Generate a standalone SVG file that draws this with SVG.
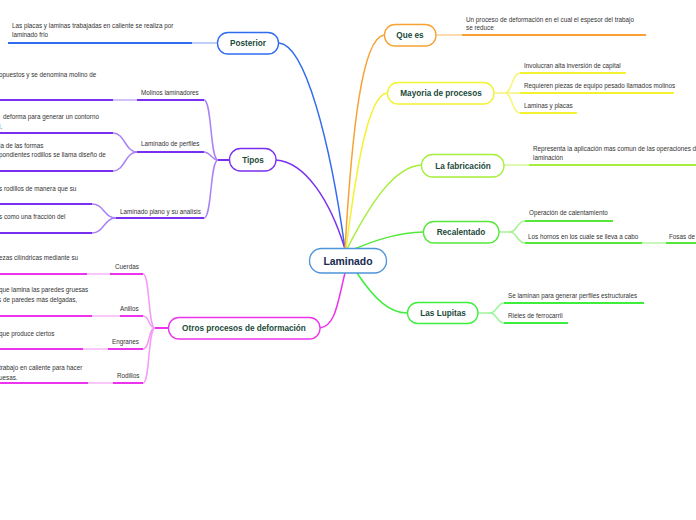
<svg xmlns="http://www.w3.org/2000/svg" width="696" height="520" viewBox="0 0 696 520">
<style>
.t{font-family:"Liberation Sans",Arial,sans-serif;font-size:6.3px;fill:#333}
.n{font-family:"Liberation Sans",Arial,sans-serif;font-size:8.2px;font-weight:bold;fill:#1b4a3a;text-anchor:middle}
.box{fill:#fff;stroke-width:1.3}
.c{fill:none;stroke-width:1.5;stroke-linecap:round}
.u{fill:none;stroke-width:2}
.l{fill:none;stroke-width:1.5}
</style>
<rect width="696" height="520" fill="#fff"/>
<g id="connectors">
  <!-- main connectors -->
  <path class="c" stroke="#2f6cf2" d="M345,249 C330,140 305,45 279,43"/>
  <path class="c" stroke="#7a2ff0" d="M345,249 C330,200 305,162 276,160"/>
  <path class="c" stroke="#ee33ee" d="M345,273 C338,300 336,326 320,328"/>
  <path class="c" stroke="#f7a233" d="M345,249 C352,130 362,38 384,35"/>
  <path class="c" stroke="#f2f230" d="M346,249 C356,170 368,95 387,93"/>
  <path class="c" stroke="#a6ee3a" d="M347,249 C372,200 395,167 421,165"/>
  <path class="c" stroke="#55e83a" d="M352,250 C380,238 400,233 423,232"/>
  <path class="c" stroke="#3dee3d" d="M357,273 C375,300 390,313 407,313"/>

  <!-- Posterior child -->
  <path class="l" stroke="#a8bff8" d="M217,43 H192"/>
  <path class="u" stroke="#2f6cf2" d="M192,43 H8"/>

  <!-- Tipos children -->
  <path class="u" stroke="#7a2ff0" d="M229,160 H218"/>
  <path class="l" stroke="#a882f5" d="M218,160 C210,160 212,100 204,100"/>
  <path class="l" stroke="#a882f5" d="M218,160 C212,160 210,152 204,152"/>
  <path class="l" stroke="#a882f5" d="M218,160 C210,160 212,218 204,218"/>
  <path class="u" stroke="#7a2ff0" d="M204,100 H137"/>
  <path class="u" stroke="#7a2ff0" d="M204,152 H137"/>
  <path class="u" stroke="#7a2ff0" d="M204,218 H116"/>
  <path class="l" stroke="#c4acf8" d="M137,100 H113"/>
  <path class="u" stroke="#7a2ff0" d="M113,100 H0"/>
  <path class="l" stroke="#a882f5" d="M137,152 C125,152 125,133 113,133"/>
  <path class="l" stroke="#a882f5" d="M137,152 C125,152 125,171 113,171"/>
  <path class="u" stroke="#7a2ff0" d="M113,133 H0"/>
  <path class="u" stroke="#7a2ff0" d="M113,171 H0"/>
  <path class="l" stroke="#a882f5" d="M116,218 C104,218 104,204 92,204"/>
  <path class="l" stroke="#a882f5" d="M116,218 C104,218 104,233 92,233"/>
  <path class="u" stroke="#7a2ff0" d="M92,204 H0"/>
  <path class="u" stroke="#7a2ff0" d="M92,233 H0"/>

  <!-- Otros children -->
  <path class="u" stroke="#ee33ee" d="M168,328 H155"/>
  <path class="l" stroke="#f59af5" d="M155,328 C148,328 150,274 143,274"/>
  <path class="l" stroke="#f59af5" d="M155,328 C148,328 150,316 143,316"/>
  <path class="l" stroke="#f59af5" d="M155,328 C148,328 150,349 143,349"/>
  <path class="l" stroke="#f59af5" d="M155,328 C148,328 150,383 143,383"/>
  <path class="u" stroke="#ee33ee" d="M143,274 H110"/>
  <path class="l" stroke="#f8b4f8" d="M110,274 H87"/>
  <path class="u" stroke="#ee33ee" d="M87,274 H0"/>
  <path class="u" stroke="#ee33ee" d="M143,316 H120"/>
  <path class="l" stroke="#f8b4f8" d="M120,316 H92"/>
  <path class="u" stroke="#ee33ee" d="M92,316 H0"/>
  <path class="u" stroke="#ee33ee" d="M143,349 H108"/>
  <path class="l" stroke="#f8b4f8" d="M108,349 H83"/>
  <path class="u" stroke="#ee33ee" d="M83,349 H0"/>
  <path class="u" stroke="#ee33ee" d="M143,383 H113"/>
  <path class="l" stroke="#f8b4f8" d="M113,383 H88"/>
  <path class="u" stroke="#ee33ee" d="M88,383 H0"/>

  <!-- Que es child -->
  <path class="l" stroke="#fbcf96" d="M436,35 H462"/>
  <path class="u" stroke="#f7a233" d="M462,35 H646"/>

  <!-- Mayoria children -->
  <path class="l" stroke="#f6f67a" d="M494,93 H505"/>
  <path class="l" stroke="#f6f67a" d="M505,93 C512,93 512,73 520,73"/>
  <path class="l" stroke="#f6f67a" d="M505,93 H520"/>
  <path class="l" stroke="#f6f67a" d="M505,93 C512,93 512,113 520,113"/>
  <path class="u" stroke="#f2f230" d="M520,73 H626"/>
  <path class="u" stroke="#f2f230" d="M520,93 H674"/>
  <path class="u" stroke="#f2f230" d="M520,113 H577"/>

  <!-- La fabricacion child -->
  <path class="l" stroke="#d0f69a" d="M504,165 H529"/>
  <path class="u" stroke="#a6ee3a" d="M529,165 H696"/>

  <!-- Recalentado children -->
  <path class="l" stroke="#a6f290" d="M499,232 H510"/>
  <path class="l" stroke="#a6f290" d="M510,232 C517,232 517,221 525,221"/>
  <path class="l" stroke="#a6f290" d="M510,232 C517,232 517,243 525,243"/>
  <path class="u" stroke="#55e83a" d="M525,221 H613"/>
  <path class="u" stroke="#55e83a" d="M525,243 H642"/>
  <path class="l" stroke="#b4f4a4" d="M642,243 H666"/>
  <path class="u" stroke="#55e83a" d="M666,243 H696"/>

  <!-- Las Lupitas children -->
  <path class="l" stroke="#9cf69c" d="M478,313 H490"/>
  <path class="l" stroke="#9cf69c" d="M490,313 C497,313 497,303 504,303"/>
  <path class="l" stroke="#9cf69c" d="M490,313 C497,313 497,323 504,323"/>
  <path class="u" stroke="#3dee3d" d="M504,303 H644"/>
  <path class="u" stroke="#3dee3d" d="M504,323 H568"/>
</g>

<g id="laminado">
  <rect class="box" x="309.5" y="248.5" width="77" height="24.5" rx="12" stroke="#4d94d9"/>
  <text x="348" y="264.5" class="n" style="font-size:10.4px;fill:#16284f">Laminado</text>
</g>
<g id="posterior">
  <rect class="box" x="217.5" y="32.5" width="61" height="21.5" rx="10.5" stroke="#2f6cf2"/>
  <text x="248" y="46" class="n">Posterior</text>
  <text class="t" x="12" y="28">Las placas y laminas trabajadas en caliente se realiza por</text>
  <text class="t" x="12" y="37">laminado frio</text>
</g>
<g id="tipos">
  <rect class="box" x="229.5" y="148.5" width="46.5" height="22.5" rx="11" stroke="#7a2ff0"/>
  <text x="253" y="162.5" class="n">Tipos</text>
  <text class="t" x="141" y="95">Molinos laminadores</text>
  <text class="t" x="141" y="146">Laminado de perfiles</text>
  <text class="t" x="120" y="214">Laminado plano y su analisis</text>
  <text class="t" x="-1" y="77">opuestos y se denomina molino de</text>
  <text class="t" x="3" y="119">deforma para generar un contorno</text>
  <text class="t" x="-1" y="129">l.</text>
  <text class="t" x="-1" y="148">ia de las formas</text>
  <text class="t" x="-1" y="157">pondientes rodillos se llama diseño de</text>
  <text class="t" x="-1" y="191">s rodillos de manera que su</text>
  <text class="t" x="-1" y="219">s como una fracción del</text>
</g>
<g id="otros">
  <rect class="box" x="168.5" y="317.5" width="151.5" height="21.5" rx="10.5" stroke="#ee33ee"/>
  <text x="244" y="331" class="n">Otros procesos de deformación</text>
  <text class="t" x="115" y="269">Cuerdas</text>
  <text class="t" x="120" y="311">Anillos</text>
  <text class="t" x="112" y="344">Engranes</text>
  <text class="t" x="117" y="378">Rodillos</text>
  <text class="t" x="-1" y="260">ezas cilíndricas mediante su</text>
  <text class="t" x="-1" y="292">que lamina las paredes gruesas</text>
  <text class="t" x="-2" y="302">s de paredes más delgadas,</text>
  <text class="t" x="-1" y="336">que produce ciertos</text>
  <text class="t" x="-1" y="370">trabajo en caliente para hacer</text>
  <text class="t" x="-1" y="380">uesas.</text>
</g>
<g id="quees">
  <rect class="box" x="384.5" y="24.5" width="51.5" height="21.5" rx="10.5" stroke="#f7a233"/>
  <text x="410" y="38" class="n">Que es</text>
  <text class="t" x="466" y="22">Un proceso de deformación en el cual el espesor  del trabajo</text>
  <text class="t" x="466" y="30">se reduce</text>
</g>
<g id="mayoria">
  <rect class="box" x="387.5" y="82.5" width="106.5" height="21.5" rx="10.5" stroke="#f2f230"/>
  <text x="441" y="96" class="n">Mayoria de procesos</text>
  <text class="t" x="524" y="68">Involucran alta inversión de capital</text>
  <text class="t" x="524" y="88">Requieren piezas de equipo pesado llamados molinos</text>
  <text class="t" x="524" y="108">Laminas y placas</text>
</g>
<g id="fabricacion">
  <rect class="box" x="421.5" y="154.5" width="82.5" height="22.5" rx="11" stroke="#a6ee3a"/>
  <text x="463" y="168.5" class="n">La fabricación</text>
  <text class="t" x="533" y="151">Representa la aplicación mas comun de las operaciones de</text>
  <text class="t" x="533" y="160">laminación</text>
</g>
<g id="recalentado">
  <rect class="box" x="423.5" y="221.5" width="75.5" height="21.5" rx="10.5" stroke="#55e83a"/>
  <text x="461" y="235" class="n">Recalentado</text>
  <text class="t" x="529" y="215">Operación de calentamiento</text>
  <text class="t" x="528" y="239">Los hornos en los cuale se lleva a cabo</text>
  <text class="t" x="669" y="239">Fosas de</text>
</g>
<g id="lupitas">
  <rect class="box" x="407.5" y="302.5" width="70.5" height="21" rx="10.5" stroke="#3dee3d"/>
  <text x="443" y="316" class="n">Las Lupitas</text>
  <text class="t" x="508" y="298">Se laminan para generar perfiles estructurales</text>
  <text class="t" x="508" y="318">Rieles de ferrocarril</text>
</g>
</svg>
